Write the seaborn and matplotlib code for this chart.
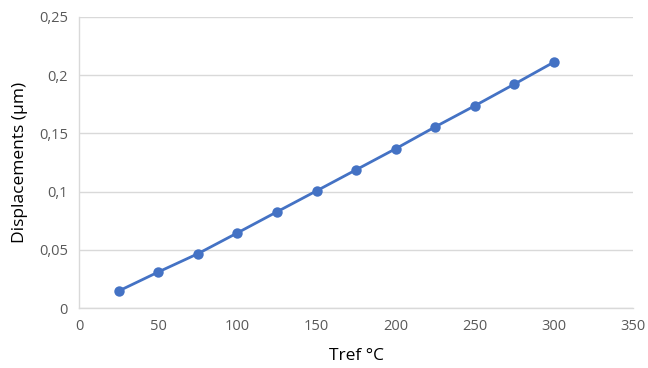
import matplotlib
matplotlib.use("Agg")
import matplotlib.pyplot as plt
import seaborn as sns
import pandas as pd
from matplotlib.ticker import FuncFormatter, MultipleLocator

# valeurs
tref = [25, 50, 75, 100, 125, 150, 175, 200, 225, 250, 275, 300]
deplacements = [0.0146, 0.0309, 0.0466, 0.0645, 0.0826, 0.1006, 0.1187, 0.1368, 0.1556, 0.1737, 0.1923, 0.2112]

df = pd.DataFrame({"Tref": tref, "Displacements": deplacements})

sns.set_style("white")
plt.rcParams["font.family"] = ["Open Sans", "DejaVu Sans"]

fig = plt.figure(figsize=(6.48, 3.68), dpi=100)
ax = fig.add_axes([0.122, 0.163, 0.855, 0.791])

sns.lineplot(data=df, x="Tref", y="Displacements", ax=ax, color="#4472C4",
             linewidth=2, marker="o", markersize=7.5, markeredgewidth=0)

ax.set_xlim(0, 350)
ax.set_ylim(0, 0.25)
ax.xaxis.set_major_locator(MultipleLocator(50))
ax.yaxis.set_major_locator(MultipleLocator(0.05))

def virgule(v, pos):
    s = f"{v:.2f}".rstrip("0").rstrip(".")
    return s.replace(".", ",")

ax.yaxis.set_major_formatter(FuncFormatter(virgule))
ax.xaxis.set_major_formatter(FuncFormatter(lambda v, p: f"{int(v)}"))

ax.grid(axis="y", color="#D9D9D9", linewidth=1)
ax.set_axisbelow(True)
for s in ["top", "right"]:
    ax.spines[s].set_visible(False)
for s in ["left", "bottom"]:
    ax.spines[s].set_color("#D9D9D9")
    ax.spines[s].set_linewidth(1)

ax.tick_params(axis="both", length=0, labelsize=10.5, labelcolor="#595959", pad=8)
ax.set_xlabel("Tref °C", fontsize=12.5, color="black", labelpad=10)
ax.set_ylabel("Displacements (µm)", fontsize=12.5, color="black", labelpad=8)

fig.savefig("out.png", dpi=100)
